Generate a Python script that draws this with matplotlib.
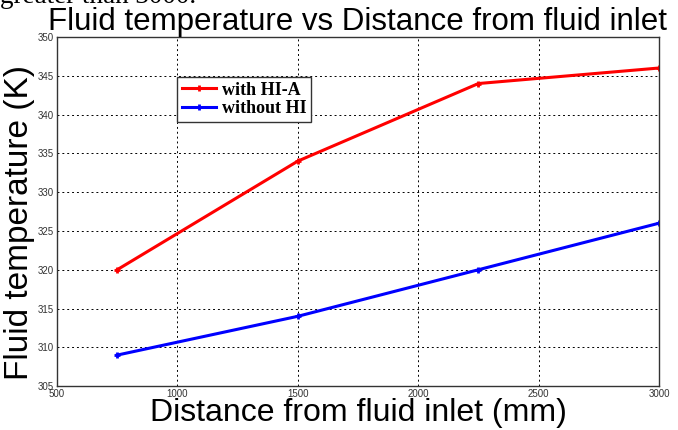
import matplotlib
matplotlib.use("Agg")
import matplotlib.pyplot as plt

distance = [750, 1500, 2250, 3000]
with_hia = [320, 334, 344, 346]
without_hi = [309, 314, 320, 326]
xticks = [500, 1000, 1500, 2000, 2500, 3000]
yticks = [305, 310, 315, 320, 325, 330, 335, 340, 345, 350]

fig = plt.figure(figsize=(6.78, 4.30), dpi=100)
ax = fig.add_axes([0.084, 0.102, 0.888, 0.812])

ax.plot(distance, with_hia, color="red", lw=2.2, marker="+", ms=5, mew=2, label="with HI-A")
ax.plot(distance, without_hi, color="blue", lw=2.2, marker="+", ms=5, mew=2, label="without HI")

ax.set_xlim(500, 3000)
ax.set_ylim(305, 350)
ax.set_xticks(xticks)
ax.set_yticks(yticks)
ax.grid(True, color="black", linestyle=(0, (2, 3)), linewidth=0.7)
ax.tick_params(labelsize=7, colors="#333333", direction="in", length=0, pad=2)
for lab in ax.get_xticklabels() + ax.get_yticklabels():
    lab.set_fontfamily("Liberation Sans")
for s in ax.spines.values():
    s.set_color("#333333")
    s.set_linewidth(1.0)

ax.set_title("Fluid temperature vs Distance from fluid inlet", fontsize=22.5,
             family="Liberation Sans", pad=3)
ax.set_xlabel("Distance from fluid inlet (mm)", fontsize=23, family="Liberation Sans", labelpad=-1)
ax.set_ylabel("Fluid temperature (K)", fontsize=24, family="Liberation Sans")
ax.yaxis.set_label_coords(-0.036, 0.47)

leg = ax.legend(loc="upper left", bbox_to_anchor=(0.2, 0.885),
                prop={"family": "Liberation Serif", "weight": "bold", "size": 13},
                fancybox=False, edgecolor="#333333", framealpha=1,
                handlelength=1.9, handletextpad=0.3, borderpad=0.25, labelspacing=0.1,
                borderaxespad=0)
leg.get_frame().set_linewidth(1.0)

fig.text(0.0, 1 - 3 / 430, "greater than 3000.", fontsize=19.5, family="Liberation Serif",
         va="baseline", ha="left")

fig.savefig("out.png", dpi=100)
